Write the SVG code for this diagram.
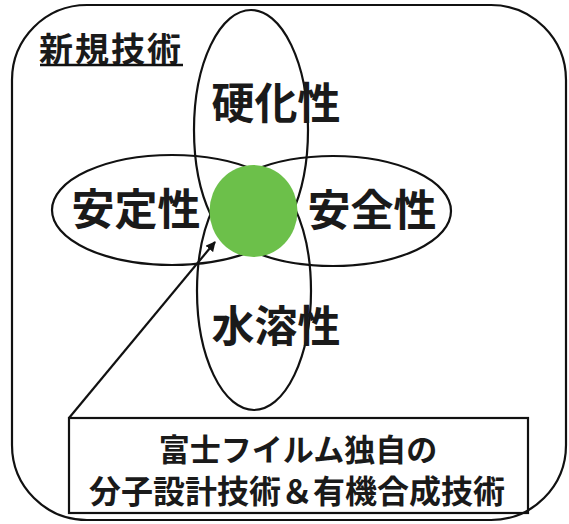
<svg xmlns="http://www.w3.org/2000/svg" width="569" height="524" viewBox="0 0 569 524">
<defs>
<style>
.ln{fill:none;stroke:#111;stroke-width:2.2}
.t{font-family:"Noto Sans CJK JP","Noto Sans CJK SC",sans-serif;font-weight:bold;fill:#1a1a1a;text-anchor:middle}
</style>
<marker id="ah" viewBox="0 0 10 10" refX="9" refY="5" markerWidth="10" markerHeight="10" markerUnits="userSpaceOnUse" orient="auto">
<path d="M0,0 L10,5 L0,10 z" fill="#111"/>
</marker>
</defs>
<rect width="569" height="524" fill="#fff"/>
<g id="frame">
<rect class="ln" x="12" y="5" width="554" height="515" rx="75" ry="75"/>
<text class="t" x="111" y="62" font-size="34" letter-spacing="2">新規技術</text>
<line x1="40" y1="65" x2="183" y2="65" stroke="#111" stroke-width="2.5"/>
</g>
<g id="hardening">
<ellipse class="ln" cx="251" cy="130" rx="57" ry="120"/>
<text class="t" x="276" y="119" font-size="43">硬化性</text>
</g>
<g id="water">
<ellipse class="ln" cx="254" cy="291" rx="57" ry="119"/>
<text class="t" x="276" y="342" font-size="43">水溶性</text>
</g>
<g id="stability">
<ellipse class="ln" cx="172" cy="210" rx="120" ry="55"/>
<text class="t" x="136" y="225" font-size="43">安定性</text>
</g>
<g id="safety">
<ellipse class="ln" cx="333" cy="211" rx="118" ry="55"/>
<text class="t" x="372" y="226" font-size="43">安全性</text>
</g>
<g id="core">
<ellipse cx="253.5" cy="211" rx="44" ry="46" fill="#6cc04a"/>
</g>
<g id="connectors">
<line class="ln" x1="69" y1="418" x2="215" y2="242" marker-end="url(#ah)"/>
</g>
<g id="tech">
<rect class="ln" x="69" y="418" width="459" height="95"/>
<text class="t" x="298" y="461" font-size="31">富士フイルム独自の</text>
<text class="t" x="297" y="503" font-size="32">分子設計技術＆有機合成技術</text>
</g>
</svg>
